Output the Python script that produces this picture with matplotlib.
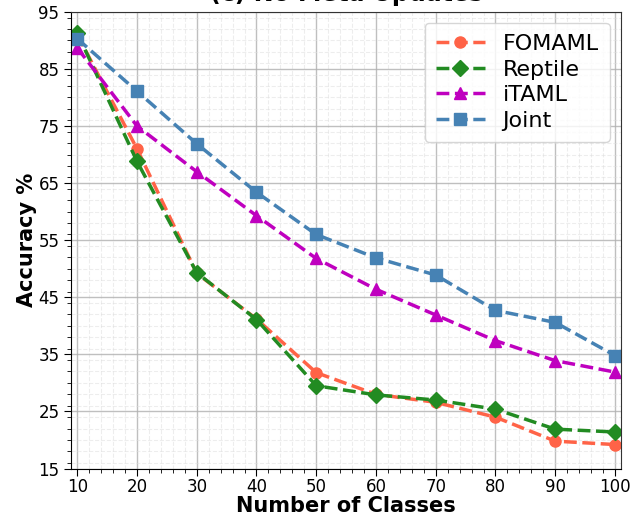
import matplotlib.pyplot as plt
from matplotlib.ticker import MultipleLocator

classes = [10, 20, 30, 40, 50, 60, 70, 80, 90, 100]
fomaml = [91.0, 71.0, 49.2, 41.2, 31.8, 28.0, 26.6, 24.0, 19.8, 19.2]
reptile = [91.3, 68.8, 49.3, 41.1, 29.5, 27.9, 27.0, 25.4, 21.9, 21.4]
itaml = [88.7, 75.0, 67.0, 59.3, 51.8, 46.4, 41.9, 37.4, 33.9, 31.9]
joint = [90.3, 81.1, 71.9, 63.4, 56.0, 51.9, 48.9, 42.7, 40.6, 34.8]

series = [
    ("FOMAML", fomaml, "tomato", "o"),
    ("Reptile", reptile, "forestgreen", "D"),
    ("iTAML", itaml, "m", "^"),
    ("Joint", joint, "steelblue", "s"),
]

fig, ax = plt.subplots(figsize=(6.31, 5.16), dpi=100)
fig.subplots_adjust(left=0.113, right=0.984, top=0.977, bottom=0.092)

for name, vals, color, marker in series:
    ax.plot(classes, vals, linestyle="--", linewidth=2.5, marker=marker,
            markersize=8, color=color, label=name)

ax.set_xlim(9, 101)
ax.set_ylim(15, 95)
ax.set_xticks(classes)
ax.set_yticks(range(15, 96, 10))
ax.xaxis.set_minor_locator(MultipleLocator(2))
ax.yaxis.set_minor_locator(MultipleLocator(2))
ax.tick_params(axis="both", which="major", labelsize=12, length=5)
ax.tick_params(axis="x", which="major", pad=2)
ax.tick_params(axis="both", which="minor", length=3)

ax.grid(True, which="major", color="#b0b0b0", linewidth=1.0, alpha=0.8)
ax.grid(True, which="minor", color="#dddddd", linestyle="--", linewidth=0.8, alpha=0.5)
ax.set_axisbelow(True)

for side in ["top", "right"]:
    ax.spines[side].set_color("#333333")

ax.set_xlabel("Number of Classes", fontsize=15, fontweight="bold", labelpad=0)
ax.set_ylabel("Accuracy %", fontsize=15, fontweight="bold", labelpad=1)
ax.set_title("(c) No Meta Updates", fontsize=17, fontweight="bold", pad=8)

ax.legend(loc="upper right", fontsize=16, handlelength=2.2, labelspacing=0.25,
          borderpad=0.5, framealpha=0.8)

fig.savefig("out.png", dpi=100)
